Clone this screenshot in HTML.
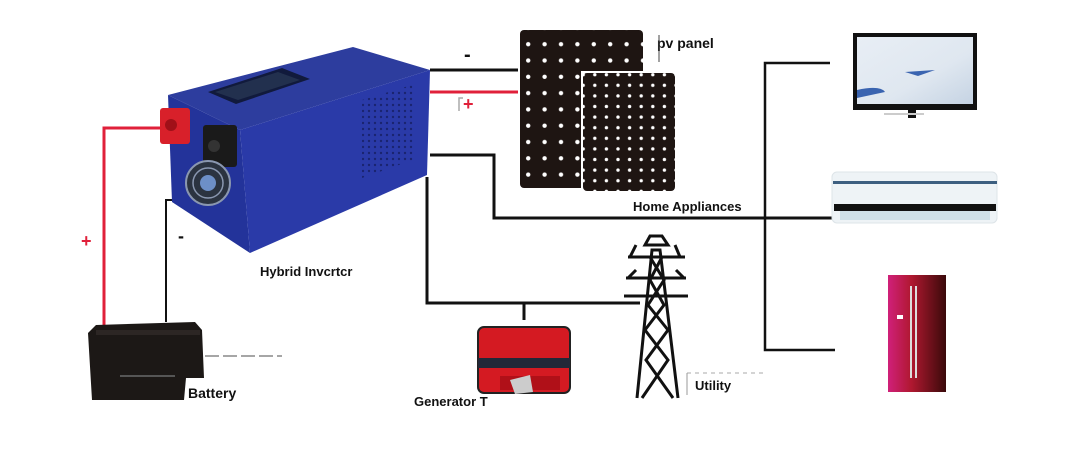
<!DOCTYPE html>
<html><head><meta charset="utf-8"><style>
html,body{margin:0;padding:0;background:#fff;}
svg{display:block;}
text{font-family:"Liberation Sans",Arial,sans-serif;font-weight:bold;}
</style></head><body>
<svg width="1092" height="456" viewBox="0 0 1092 456" xmlns="http://www.w3.org/2000/svg">
<defs>
<pattern id="d1" x="520" y="36" width="16.4" height="16.3" patternUnits="userSpaceOnUse">
<rect width="16.4" height="16.3" fill="#1e1512"/><circle cx="8.2" cy="8.2" r="2.2" fill="#fff"/></pattern>
<pattern id="d2" x="589" y="80" width="11.6" height="10.6" patternUnits="userSpaceOnUse">
<rect width="11.6" height="10.6" fill="#1e1512"/><circle cx="5.8" cy="5.3" r="1.7" fill="#fff"/></pattern>
<pattern id="vent" width="6" height="6" patternUnits="userSpaceOnUse">
<rect width="6" height="6" fill="#2a3aa8"/><circle cx="3" cy="3" r="1.2" fill="#1a2470"/></pattern>
<linearGradient id="fr" x1="0" x2="1"><stop offset="0" stop-color="#d0207a"/><stop offset="0.4" stop-color="#b01830"/><stop offset="1" stop-color="#3a0a0a"/></linearGradient>
<linearGradient id="tv" x1="0" x2="1" y1="0" y2="1"><stop offset="0" stop-color="#e8eef5"/><stop offset="0.6" stop-color="#dfe7f0"/><stop offset="1" stop-color="#c5d3e3"/></linearGradient>
</defs>

<!-- wires -->
<g fill="none" stroke-width="3">
<polyline points="160,128 104,128 104,332" stroke="#e0203a"/>
<polyline points="176,200 166,200 166,322" stroke="#111" stroke-width="2"/>
<line x1="430" y1="70" x2="518" y2="70" stroke="#111"/>
<line x1="430" y1="92" x2="518" y2="92" stroke="#e0203a"/>
<polyline points="430,155 494,155 494,218 765,218" stroke="#111"/>
<polyline points="427,177 427,303 640,303" stroke="#111"/>
<line x1="524" y1="302" x2="524" y2="320" stroke="#111"/>
<polyline points="830,63 765,63 765,350 835,350" stroke="#111" stroke-width="2.5"/>
<line x1="765" y1="218" x2="832" y2="218" stroke="#111"/>
</g>
<polyline points="459,111 459,98 463,98" fill="none" stroke="#aaa" stroke-width="1.5"/>
<line x1="205" y1="356" x2="282" y2="356" stroke="#888" stroke-dasharray="14,4" stroke-width="1.5"/>
<line x1="687" y1="373" x2="767" y2="373" stroke="#aaa" stroke-dasharray="4,4"/>
<line x1="687" y1="373" x2="687" y2="395" stroke="#999"/>

<!-- inverter -->
<polygon points="168,95 353,47 430,70 240,130" fill="#2d3d9e"/>
<polygon points="168,95 240,130 250,253 172,202" fill="#23339a"/>
<polygon points="240,130 430,70 427,175 250,253" fill="#2a3aa8"/>
<polygon points="208,92 282,68 310,79 236,104" fill="#111a3c"/>
<polygon points="215,92 278,72 300,80 238,100" fill="#22304e"/>
<polygon points="362,100 415,84 413,160 362,178" fill="url(#vent)"/>
<rect x="160" y="108" width="30" height="36" rx="3" fill="#d8202a"/>
<circle cx="171" cy="125" r="6" fill="#a01018"/>
<rect x="203" y="125" width="34" height="42" rx="3" fill="#1a1a1a"/>
<circle cx="214" cy="146" r="6" fill="#333"/>
<circle cx="208" cy="183" r="22" fill="#2b3340" stroke="#8a97b0" stroke-width="2"/>
<circle cx="208" cy="183" r="15" fill="none" stroke="#8a97b0" stroke-width="1.5"/>
<circle cx="208" cy="183" r="8" fill="#6d8fc7"/>

<!-- PV panels -->
<rect x="520" y="30" width="123" height="158" rx="4" fill="url(#d1)"/>
<rect x="581" y="71" width="96" height="121" fill="#fff"/>
<rect x="583" y="73" width="92" height="118" rx="4" fill="url(#d2)"/>

<!-- TV -->
<rect x="853" y="33" width="124" height="77" fill="#111"/>
<rect x="857" y="37" width="116" height="67" fill="url(#tv)"/>
<path d="M857 90 Q880 85 885 92 L857 98Z" fill="#3a64b0"/>
<path d="M905 72 L935 70 L918 76Z" fill="#3a64b0"/>
<rect x="908" y="110" width="8" height="8" fill="#111"/>
<rect x="884" y="113" width="40" height="2" fill="#ccc"/>

<!-- AC -->
<rect x="832" y="172" width="165" height="51" rx="5" fill="#eef3f6" stroke="#dde4e8"/>
<rect x="833" y="181" width="164" height="3" fill="#3d5f80"/>
<rect x="834" y="204" width="162" height="7" fill="#111"/>
<rect x="840" y="211" width="150" height="9" fill="#cfe0e8"/>

<!-- Fridge -->
<rect x="888" y="275" width="58" height="117" fill="url(#fr)"/>
<rect x="910" y="286" width="2" height="92" fill="#ddd"/>
<rect x="915" y="286" width="2" height="92" fill="#ddd"/>
<rect x="897" y="315" width="6" height="4" fill="#fff"/>

<!-- battery -->
<polygon points="88,333 96,325 195,322 202,330 204,378 186,378 184,400 92,400" fill="#1c1816"/>
<rect x="96" y="330" width="104" height="5" fill="#2c2624"/>
<rect x="120" y="375" width="55" height="2" fill="#555"/>

<!-- generator -->
<rect x="478" y="327" width="92" height="66" rx="6" fill="#d41a22" stroke="#222" stroke-width="2"/>
<rect x="478" y="358" width="92" height="10" fill="#232838"/>
<rect x="500" y="376" width="60" height="14" fill="#b01018"/>
<polygon points="510,380 530,375 533,392 515,394" fill="#ccc"/>
<rect x="478" y="394" width="90" height="10" fill="#fff"/>

<!-- tower -->
<g stroke="#111" stroke-width="3" fill="none">
<path d="M637 398 L652 250 L660 250 L678 398"/>
<path d="M628 257 L685 257 M626 278 L686 278 M624 296 L688 296"/>
<path d="M642 398 L668 360 L645 330 L664 305 L650 280 L662 257"/>
<path d="M673 398 L646 360 L668 330 L648 305 L664 280 L650 257"/>
<path d="M630 257 L636 245 M680 257 L675 245 M628 278 L636 270 M684 278 L676 270"/>
<path d="M645 245 L668 245 L662 236 L650 236Z"/>
</g>

<!-- labels -->
<text x="464" y="61" font-size="20" fill="#111">-</text>
<text x="463" y="110" font-size="18" fill="#e0203a">+</text>
<text x="81" y="247" font-size="18" fill="#e0203a">+</text>
<text x="178" y="242" font-size="18" fill="#111">-</text>
<text x="657" y="48" font-size="14" fill="#111">pv panel</text>
<line x1="659" y1="35" x2="659" y2="62" stroke="#444"/>
<text x="633" y="211" font-size="13" fill="#111">Home Appliances</text>
<text x="260" y="276" font-size="13" fill="#111">Hybrid Invcrtcr</text>
<text x="188" y="398" font-size="14" fill="#111">Battery</text>
<text x="414" y="406" font-size="13" fill="#111">Generator  T</text>
<text x="695" y="390" font-size="13" fill="#111">Utility</text>
</svg>
</body></html>
